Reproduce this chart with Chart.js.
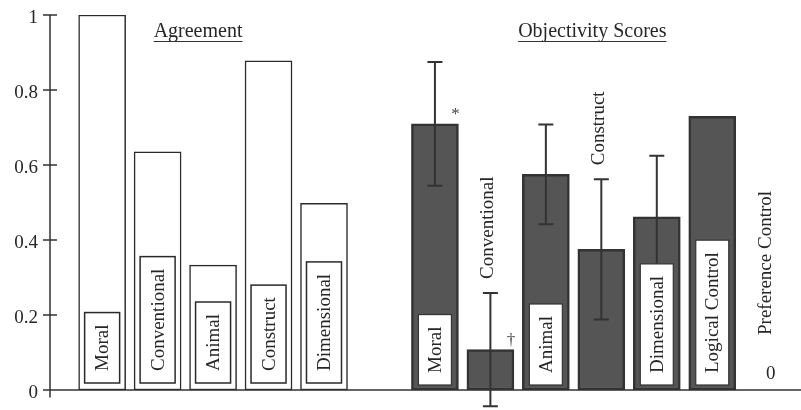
<!DOCTYPE html>
<html lang="en">
<head>
<meta charset="UTF-8" />
<title>Agreement and Objectivity Scores</title>
<script src="https://cdn.jsdelivr.net/npm/chart.js"></script>
<style>
  html, body { margin: 0; padding: 0; background: #fff; }
  #wrap { width: 801px; height: 410px; }
</style>
</head>
<body>
<div id="wrap"><canvas id="chart" width="801" height="410"></canvas></div>
<script>
  // data
  const categories = ["Moral", "Conventional", "Animal", "Construct", "Dimensional"];
  const controls = ["Logical Control", "Preference Control"];
  const agreement = [1.0, 0.635, 0.333, 0.878, 0.498];
  const objectivity = [0.71, 0.108, 0.575, 0.375, 0.462, 0.73, 0];
  const objectivityErr = [0.165, 0.151, 0.133, 0.187, 0.163, null, null];
  const objectivityMarks = ["*", "\u2020", "", "", "", "", ""];
  const objLabelInBar = [true, false, true, false, true, true, false];
  const yTicks = [0, 0.2, 0.4, 0.6, 0.8, 1];
  const groupTitles = ["Agreement", "Objectivity Scores"];

  const objLabels = categories.concat(controls);
  // one empty slot between the two groups
  const agreeStart = 0;
  const objStart = categories.length + 1;

  const serif = "'Liberation Serif', 'Times New Roman', serif";
  const ink = "#262626";

  function vText(ctx, text, x, y, align) {
    ctx.save();
    ctx.translate(x, y);
    ctx.rotate(-Math.PI / 2);
    ctx.textAlign = align;
    ctx.textBaseline = "middle";
    ctx.fillStyle = ink;
    ctx.fillText(text, 0, 0);
    ctx.restore();
  }

  function labelBox(ctx, text, cx, bottom, w, border, lw) {
    ctx.font = "19px " + serif;
    const h = ctx.measureText(text).width + 24;
    ctx.fillStyle = "#fff";
    ctx.fillRect(cx - w / 2, bottom - h, w, h);
    ctx.strokeStyle = border;
    ctx.lineWidth = lw;
    ctx.strokeRect(cx - w / 2, bottom - h, w, h);
    vText(ctx, text, cx + 1, bottom - h / 2, "center");
  }

  const decor = {
    id: "decor",
    afterDatasetsDraw(chart) {
      const ctx = chart.ctx;
      const y = chart.scales.y;
      const zero = y.getPixelForValue(0);

      // agreement labels, boxed at the foot of each bar
      chart.getDatasetMeta(0).data.forEach((bar, i) => {
        labelBox(ctx, categories[i], bar.x, zero - 7, 35, "#2a2a2a", 1.5);
      });

      // objectivity: error bars, labels, markers
      chart.getDatasetMeta(1).data.forEach((bar, i) => {
        const v = objectivity[i];
        const e = objectivityErr[i];
        let top = bar.y;
        if (e != null) {
          const hi = y.getPixelForValue(v + e);
          const lo = y.getPixelForValue(v - e);
          ctx.strokeStyle = "#333";
          ctx.lineWidth = 2;
          ctx.beginPath();
          ctx.moveTo(bar.x, hi); ctx.lineTo(bar.x, lo);
          ctx.moveTo(bar.x - 7.5, hi); ctx.lineTo(bar.x + 7.5, hi);
          ctx.moveTo(bar.x - 7.5, lo); ctx.lineTo(bar.x + 7.5, lo);
          ctx.stroke();
          top = Math.min(top, hi);
        }
        if (objectivityMarks[i]) {
          ctx.font = "17px " + serif;
          ctx.fillStyle = "#444";
          ctx.textAlign = "center";
          ctx.textBaseline = "middle";
          ctx.fillText(objectivityMarks[i], bar.x + bar.width / 2 - 3, bar.y - 9);
        }
        if (objLabelInBar[i]) {
          labelBox(ctx, objLabels[i], bar.x, zero - 5, 33, "#333", 1.2);
        } else {
          ctx.font = "19px " + serif;
          let start = top - 14;
          if (v === 0) {
            ctx.fillStyle = ink;
            ctx.textAlign = "center";
            ctx.textBaseline = "middle";
            ctx.fillText(String(v), bar.x + 3, zero - 16);
            start = zero - 55;
          }
          vText(ctx, objLabels[i], bar.x - 2, start, "left");
        }
      });
    },
    afterDraw(chart) {
      const ctx = chart.ctx;
      const area = chart.chartArea;
      const y = chart.scales.y;
      const x = chart.scales.x;
      const zero = y.getPixelForValue(0);
      ctx.save();
      ctx.strokeStyle = "#333";
      ctx.lineWidth = 1.5;
      ctx.beginPath();
      ctx.moveTo(area.left, area.top);
      ctx.lineTo(area.left, area.bottom);
      ctx.moveTo(area.left - 7, zero);
      ctx.lineTo(area.right, zero);
      yTicks.forEach(t => {
        const p = y.getPixelForValue(t);
        ctx.moveTo(area.left - 7, p);
        ctx.lineTo(area.left + 7, p);
      });
      ctx.stroke();

      ctx.font = "19px " + serif;
      ctx.fillStyle = ink;
      ctx.textAlign = "right";
      ctx.textBaseline = "middle";
      yTicks.forEach(t => {
        ctx.fillText(String(t), area.left - 12, y.getPixelForValue(t) + 3);
      });

      // underlined group titles
      const groups = [
        [agreeStart, agreeStart + categories.length - 1, -15],
        [objStart, objStart + objLabels.length - 1, -9]
      ];
      ctx.font = "20px " + serif;
      ctx.textAlign = "center";
      ctx.textBaseline = "alphabetic";
      ctx.lineWidth = 1.2;
      groups.forEach((g, i) => {
        const cx = (x.getPixelForValue(g[0]) + x.getPixelForValue(g[1])) / 2 + g[2];
        const w = ctx.measureText(groupTitles[i]).width;
        ctx.fillText(groupTitles[i], cx, 37);
        ctx.beginPath();
        ctx.moveTo(cx - w / 2, 41.5);
        ctx.lineTo(cx + w / 2, 41.5);
        ctx.stroke();
      });
      ctx.restore();
    }
  };

  new Chart(document.getElementById("chart"), {
    type: "bar",
    data: {
      datasets: [
        {
          label: groupTitles[0],
          data: agreement.map((v, i) => ({ x: agreeStart + i, y: v })),
          backgroundColor: "#ffffff",
          borderColor: "#2a2a2a",
          borderWidth: 1.5,
          borderSkipped: false,
          barThickness: 47,
          grouped: false
        },
        {
          label: groupTitles[1],
          data: objectivity.map((v, i) => ({ x: objStart + i, y: v })),
          backgroundColor: "#555555",
          borderColor: "#333333",
          borderWidth: 2.5,
          borderSkipped: false,
          barThickness: 47,
          grouped: false
        }
      ]
    },
    options: {
      responsive: false,
      animation: false,
      devicePixelRatio: 1,
      layout: { padding: { left: 50, top: 15, right: 0, bottom: 12.5 } },
      scales: {
        x: { type: "linear", min: -0.94, max: 12.6, offset: false, display: false },
        y: { min: -0.02, max: 1, display: false }
      },
      plugins: { legend: { display: false }, tooltip: { enabled: false } }
    },
    plugins: [decor]
  });
</script>
</body>
</html>
